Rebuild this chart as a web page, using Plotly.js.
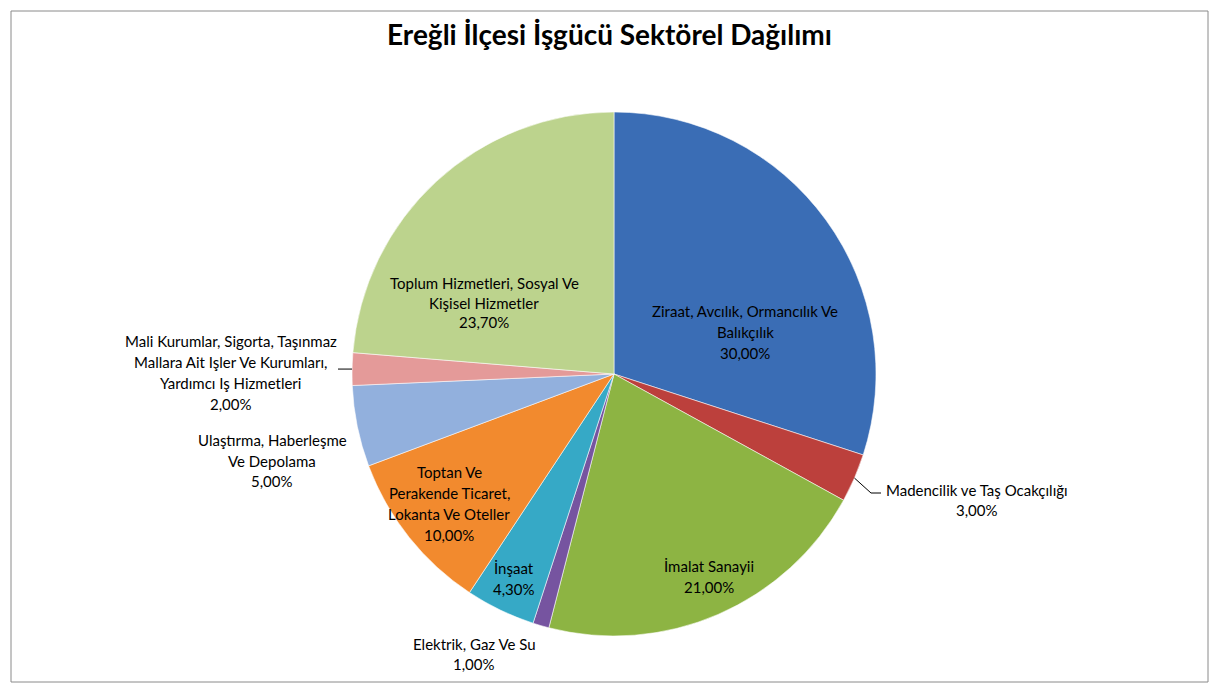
<!DOCTYPE html>
<html>
<head>
<meta charset="utf-8">
<script src="https://cdn.plot.ly/plotly-3.0.1.min.js"></script>
<style>html,body{margin:0;padding:0;background:#fff;}#chart{width:1219px;height:693px;}</style>
</head>
<body>
<div id="chart"></div>
<script>
// ---- data ----
const sectors = [
  "Ziraat, Avcılık, Ormancılık Ve|Balıkçılık",
  "Madencilik ve Taş Ocakçılığı",
  "İmalat Sanayii",
  "Elektrik, Gaz Ve Su",
  "İnşaat",
  "Toptan Ve|Perakende Ticaret,|Lokanta Ve Oteller",
  "Ulaştırma, Haberleşme|Ve Depolama",
  "Mali Kurumlar, Sigorta, Taşınmaz|Mallara Ait Işler Ve Kurumları,|Yardımcı Iş Hizmetleri",
  "Toplum Hizmetleri, Sosyal Ve|Kişisel Hizmetler"
];
const shares = [30.0, 3.0, 21.0, 1.0, 4.3, 10.0, 5.0, 2.0, 23.7];
const titleText = "Ereğli İlçesi İşgücü Sektörel Dağılımı";

// ---- styling / layout ----
const colors = ["#3A6DB5","#BC403C","#8DB443","#7654A0","#36A9C6","#F28A2E","#92B0DD","#E49A99","#BCD38D"];
const W = 1219, H = 693;
const cx = 614, cy = 374, R = 262;
// label centres (pixels) and line spacing
const labelPos = [[745,311],[977,490],[709,566],[474,644],[514,568],[449,472],[272,440],[231,341],[484,283]];
const lineGap = [21,20,21,20,21,21,20.5,21,19.5];
const fontFam = "Lato, 'Open Sans', sans-serif";

function fmt(v){ return v.toFixed(2).replace('.', ',') + '%'; }

const annotations = [];
sectors.forEach((s, i) => {
  const lines = s.split('|').concat([fmt(shares[i])]);
  lines.forEach((ln, k) => {
    annotations.push({
      xref:'paper', yref:'paper',
      x: labelPos[i][0] / W, y: 1 - (labelPos[i][1] + k * lineGap[i]) / H,
      xanchor:'center', yanchor:'middle', showarrow:false,
      text: ln, font:{family:fontFam, size:15, color:'#000'}
    });
  });
});

// leader lines from slice mid-angles
const total = shares.reduce((a,b)=>a+b,0);
function edgePoint(i){
  let cum = 0; for (let j=0;j<i;j++) cum += shares[j];
  const a = (cum + shares[i]/2) / total * 2 * Math.PI;
  return [cx + R*Math.sin(a), cy - R*Math.cos(a)];
}
const px = (x)=> x / W, py = (y)=> 1 - y / H;
function pathFrom(pts){
  return pts.map((p,k)=> (k?'L':'M') + px(p[0]).toFixed(5) + ',' + py(p[1]).toFixed(5)).join(' ');
}
const e1 = edgePoint(1), e7 = edgePoint(7);
const shapes = [
  {type:'rect', xref:'paper', yref:'paper', x0:px(11), x1:px(1208), y0:py(682), y1:py(11),
   line:{color:'#8a8a8a', width:1}, fillcolor:'rgba(0,0,0,0)'},
  {type:'path', xref:'paper', yref:'paper', path: pathFrom([e1,[871,493],[881,493]]), line:{color:'#000', width:1}},
  {type:'path', xref:'paper', yref:'paper', path: pathFrom([e7,[338,e7[1]]]), line:{color:'#000', width:1}}
];

const trace = {
  type:'pie',
  labels: sectors.map(s=>s.replace(/\|/g,' ')),
  values: shares,
  sort:false,
  direction:'clockwise',
  rotation:0,
  textinfo:'none',
  hoverinfo:'label+percent',
  marker:{colors:colors, line:{color:'rgba(255,255,255,0.55)', width:1}},
  domain:{x:[(cx-R)/W,(cx+R)/W], y:[(H-cy-R)/H,(H-cy+R)/H]}
};

const layout = {
  width:W, height:H,
  margin:{l:0,r:0,t:0,b:0},
  paper_bgcolor:'#fff',
  showlegend:false,
  title:{text:titleText, x:0.5, xanchor:'center', xref:'paper', y:1-35/H, yanchor:'middle', yref:'container',
         font:{family:fontFam, size:28, color:'#000', weight:'bold'}},
  annotations:annotations,
  shapes:shapes
};

Plotly.newPlot('chart',[trace],layout,{displayModeBar:false, staticPlot:true});
</script>
</body>
</html>
